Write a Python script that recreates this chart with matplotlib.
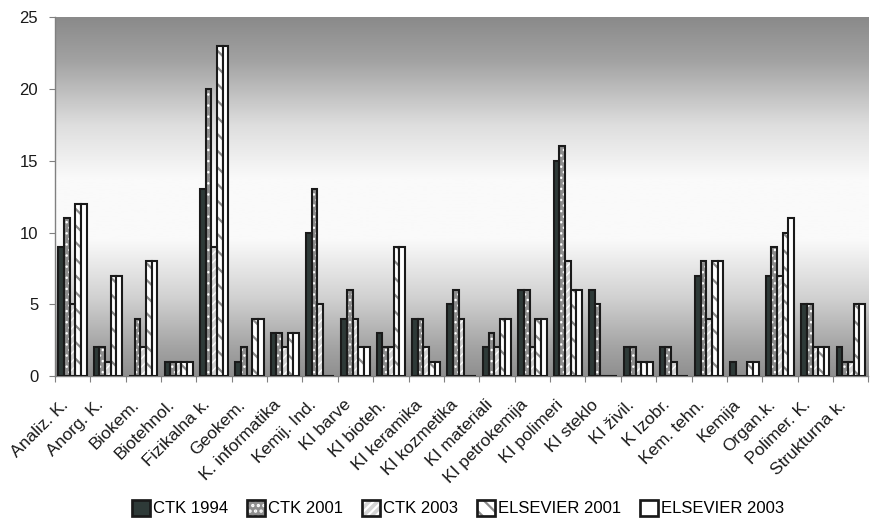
import numpy as np
import matplotlib
matplotlib.use('Agg')
import matplotlib.pyplot as plt
import matplotlib.transforms as mtransforms
from matplotlib.colors import LinearSegmentedColormap
from matplotlib.patches import Patch
from matplotlib.legend_handler import HandlerTuple

plt.rcParams['font.family'] = ['Liberation Sans', 'DejaVu Sans']

# Data
categories = ['Analiz. K.', 'Anorg. K.', 'Biokem.', 'Biotehnol.', 'Fizikalna k.',
              'Geokem.', 'K. informatika', 'Kemij. Ind.', 'KI barve', 'KI bioteh.',
              'KI keramika', 'KI kozmetika', 'KI materiali', 'KI petrokemija',
              'KI polimeri', 'KI steklo', 'KI živil.', 'K Izobr.', 'Kem. tehn.',
              'Kemija', 'Organ.k.', 'Polimer. K.', 'Strukturna k.']
ctk_1994 = [9, 2, 0, 1, 13, 1, 3, 10, 4, 3, 4, 5, 2, 6, 15, 6, 2, 2, 7, 1, 7, 5, 2]
ctk_2001 = [11, 2, 4, 1, 20, 2, 3, 13, 6, 2, 4, 6, 3, 6, 16, 5, 2, 2, 8, 0, 9, 5, 1]
ctk_2003 = [5, 1, 2, 1, 9, 0, 2, 5, 4, 2, 2, 4, 2, 2, 8, 0, 1, 1, 4, 0, 7, 2, 1]
els_2001 = [12, 7, 8, 1, 23, 4, 3, 0, 2, 9, 1, 0, 4, 4, 6, 0, 1, 0, 8, 1, 10, 2, 5]
els_2003 = [12, 7, 8, 1, 23, 4, 3, 0, 2, 9, 1, 0, 4, 4, 6, 0, 1, 0, 8, 1, 11, 2, 5]
series_names = ['CTK 1994', 'CTK 2001', 'CTK 2003', 'ELSEVIER 2001', 'ELSEVIER 2003']
y_ticks = [0, 5, 10, 15, 20, 25]

series = [ctk_1994, ctk_2001, ctk_2003, els_2001, els_2003]
# (face, hatch, hatch colour)
styles = [
    ('#2e3a38', None, None),
    ('#8e8e8e', '...', 'white'),
    ('#d4d4d4', '////', 'white'),
    ('white', '\\\\', '#8a8a8a'),
    ('white', None, None),
]
EDGE = '#1a1a1a'
LW = 1.5

fig = plt.figure(figsize=(8.71, 5.21), dpi=100)
ax = fig.add_axes([0.063, 0.278, 0.934, 0.689])

n = len(categories)
x = np.arange(n)
width = 0.16

# gradient background
bg = LinearSegmentedColormap.from_list('bg', [
    (0.0, '#8a8a8a'), (0.12, '#a2a2a2'), (0.3, '#dedede'), (0.45, '#fafafa'),
    (0.62, '#fafafa'), (0.78, '#d2d2d2'), (0.92, '#a4a4a4'), (1.0, '#8f8f8f')])
grad = np.linspace(0, 1, 256).reshape(-1, 1)
ax.imshow(grad, cmap=bg, aspect='auto', extent=(-0.5, n - 0.5, 0, 25),
          origin='upper', zorder=0)

handles = []
for i, (vals, (face, hatch, hcol)) in enumerate(zip(series, styles)):
    pos = x + (i - 2) * width
    if hatch:
        plt.rcParams['hatch.linewidth'] = 1.6 if i == 3 else 1.0
        ax.bar(pos, vals, width, color=face, hatch=hatch, edgecolor=hcol,
               linewidth=0, zorder=2)
        ax.bar(pos, vals, width, fill=False, edgecolor=EDGE,
               linewidth=LW, zorder=3)
        h = (Patch(facecolor=face, hatch=hatch, edgecolor=hcol, linewidth=0),
             Patch(fill=False, edgecolor=EDGE, linewidth=LW * 1.3))
    else:
        ax.bar(pos, vals, width, color=face, edgecolor=EDGE,
               linewidth=LW, zorder=3)
        h = (Patch(facecolor=face, edgecolor=EDGE, linewidth=LW * 1.3),)
    handles.append(h)

ax.set_xlim(-0.5, n - 0.5)
ax.set_ylim(0, 25)
ax.set_yticks(y_ticks)
ax.set_xticks(np.arange(n + 1) - 0.5)
ax.set_xticklabels([])
ax.tick_params(axis='x', length=4, color='#808080', direction='out')
ax.tick_params(axis='y', length=4, color='#808080', labelsize=12,
               labelcolor='#1a1a1a', pad=8)

# category labels, rotated like the original
lab_tr = ax.get_xaxis_transform() + mtransforms.ScaledTranslation(
    -12 / 100, -21 / 100, fig.dpi_scale_trans)
for xi, name in zip(x, categories):
    ax.text(xi, 0, name, transform=lab_tr, rotation=45, ha='right', va='top',
            rotation_mode='anchor', fontsize=12.5, color='#1a1a1a')

for s in ['top', 'right']:
    ax.spines[s].set_visible(False)
for s in ['left', 'bottom']:
    ax.spines[s].set_color('#808080')
    ax.spines[s].set_linewidth(1.0)

fig.legend(handles, series_names, handler_map={tuple: HandlerTuple(ndivide=1, pad=0)},
           loc='center', bbox_to_anchor=(0.526, 0.025), ncol=5, frameon=False,
           fontsize=12, handlelength=1.05, handleheight=1.1, handletextpad=0.2,
           columnspacing=1.15)

fig.savefig('out.png', dpi=100)
